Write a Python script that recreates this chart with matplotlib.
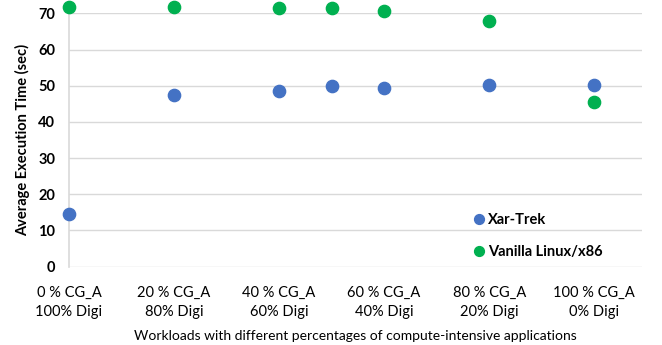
import matplotlib.pyplot as plt

plt.rcParams['font.family'] = ['Lato', 'DejaVu Sans']

# workload share of CG_A (%)
cg_share = [0, 20, 40, 50, 60, 80, 100]
xar_trek = [14.5, 47.3, 48.6, 49.9, 49.3, 50.3, 50.3]
vanilla = [71.8, 71.8, 71.4, 71.5, 70.6, 67.9, 45.5]

tick_pos = [0, 20, 40, 60, 80, 100]
tick_labels = ["0 % CG_A\n100% Digi", "20 % CG_A\n80% Digi", "40 % CG_A\n60% Digi",
               "60 % CG_A\n40% Digi", "80 % CG_A\n20% Digi", "100 % CG_A\n0% Digi"]

fig = plt.figure(figsize=(6.62, 3.45), dpi=100)
ax = fig.add_axes([0.1042, 0.227, 0.8656, 0.7344])

ax.scatter(cg_share, xar_trek, s=78, color='#4472C4', label='Xar-Trek', zorder=3, clip_on=False)
ax.scatter(cg_share, vanilla, s=78, color='#00B050', label='Vanilla Linux/x86', zorder=3, clip_on=False)

ax.set_xlim(0, 109.1)
ax.set_ylim(0, 70)
ax.set_yticks(range(0, 71, 10))
ax.set_xticks(tick_pos)
ax.set_xticklabels(tick_labels, fontsize=10.5, linespacing=1.4)
ax.tick_params(axis='x', length=0, pad=14)
ax.tick_params(axis='y', length=0, pad=10, labelsize=10.5)
for t in ax.get_yticklabels():
    t.set_fontweight('bold')

ax.grid(axis='y', color='#D9D9D9', linewidth=1)
ax.set_axisbelow(True)
for s in ['top', 'right', 'bottom']:
    ax.spines[s].set_visible(False)
ax.spines['left'].set_color('#D9D9D9')
ax.spines['left'].set_linewidth(1.2)

ax.set_ylabel('Average Execution Time (sec)', fontsize=10.5, fontweight='bold', labelpad=6)
ax.set_xlabel('Workloads with different percentages of compute-intensive applications',
              fontsize=10, labelpad=8)

leg = ax.legend(loc='upper left', bbox_to_anchor=(0.697, 0.421), bbox_transform=fig.transFigure,
                frameon=False, handlelength=0.6, handletextpad=0.3, labelspacing=1.25,
                markerscale=0.8, prop={'size': 10.5, 'weight': 'bold'},
                scatterpoints=1, scatteryoffsets=[0.5])

fig.savefig('out.png', dpi=100)
